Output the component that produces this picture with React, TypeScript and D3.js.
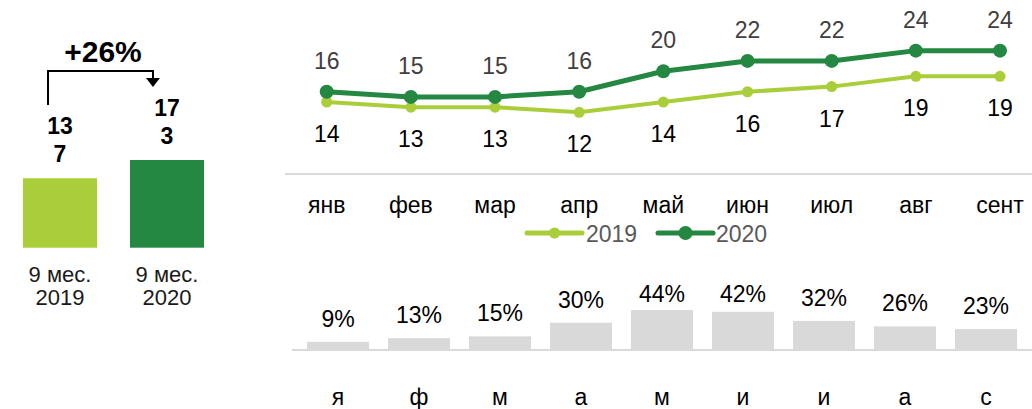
import React from 'react';
import * as d3 from 'd3';

const months = ['янв', 'фев', 'мар', 'апр', 'май', 'июн', 'июл', 'авг', 'сент'];
const series2019 = [14, 13, 13, 12, 14, 16, 17, 19, 19];
const series2020 = [16, 15, 15, 16, 20, 22, 22, 24, 24];
const seriesNames = ['2019', '2020'];

const shareCats = ['я', 'ф', 'м', 'а', 'м', 'и', 'и', 'а', 'с'];
const shareValues = [9, 13, 15, 30, 44, 42, 32, 26, 23];

const totalCats = [['9 мес.', '2019'], ['9 мес.', '2020']];
const totalValues = [137, 173];
const growthLabel = '+26%';

const LIGHT = '#A9CE3A';
const DARK = '#248742';
const GRID = '#D9D9D9';
const FONT = '"Liberation Sans", Arial, sans-serif';

export default function App() {
  // line chart scales
  const x = d3.scalePoint<string>().domain(months).range([326.7, 1000]);
  const y = d3.scaleLinear().domain([0, 30]).range([174, 19.8]);
  const line = d3
    .line<number>()
    .x((_, i) => x(months[i]) as number)
    .y((d) => y(d));

  // share bar chart scales
  const xb = d3
    .scaleBand<number>()
    .domain(shareValues.map((_, i) => i))
    .range([297.5, 1026.5])
    .paddingInner(0.235)
    .paddingOuter(0.1175);
  const yb = d3.scaleLinear().domain([0, 44]).range([350, 310]);

  // left totals
  const xt = d3.scaleBand<number>().domain([0, 1]).range([23, 204]).paddingInner(0.308).paddingOuter(0);
  const yt = d3.scaleLinear().domain([0, 173]).range([247.7, 160]);
  const totalColors = [LIGHT, DARK];

  const x0 = (xt(0) as number) + xt.bandwidth() / 2;
  const x1 = (xt(1) as number) + xt.bandwidth() / 2;

  return (
    <svg
      width={1032}
      height={409}
      style={{ position: 'absolute', left: 0, top: 0, background: '#fff' }}
      fontFamily={FONT}
    >
      {/* Left totals panel */}
      <text x={103} y={61.7} textAnchor="middle" fontSize={30} fontWeight="bold" fill="#000">
        {growthLabel}
      </text>
      <path
        d={`M${x0 - 12},105 V71 H${x1 - 14} V80`}
        fill="none"
        stroke="#000"
        strokeWidth={2}
      />
      <path d={`M${x1 - 21},78 L${x1 - 7},78 L${x1 - 14},87 Z`} fill="#000" />
      {totalValues.map((v, i) => {
        const cx = (xt(i) as number) + xt.bandwidth() / 2;
        const top = yt(v);
        const s = String(v);
        const lines = [s.slice(0, 2), s.slice(2)];
        return (
          <g key={i}>
            <rect
              x={xt(i)}
              y={top}
              width={xt.bandwidth()}
              height={yt(0) - top}
              fill={totalColors[i]}
            />
            <text textAnchor="middle" fontSize={23} fontWeight="bold" fill="#000">
              <tspan x={cx} y={top - 44}>{lines[0]}</tspan>
              <tspan x={cx} y={top - 16.5}>{lines[1]}</tspan>
            </text>
            <text textAnchor="middle" fontSize={22} fill="#1a1a1a">
              <tspan x={cx} y={281.7}>{totalCats[i][0]}</tspan>
              <tspan x={cx} y={305}>{totalCats[i][1]}</tspan>
            </text>
          </g>
        );
      })}

      {/* Line chart */}
      <line x1={285} x2={1032} y1={174} y2={174} stroke={GRID} strokeWidth={2} />
      {months.map((m) => (
        <text key={m} x={x(m)} y={212.5} textAnchor="middle" fontSize={23} fill="#000">
          {m}
        </text>
      ))}
      <path d={line(series2019) || ''} fill="none" stroke={LIGHT} strokeWidth={4} strokeLinejoin="round" strokeLinecap="round" />
      <path d={line(series2020) || ''} fill="none" stroke={DARK} strokeWidth={5} strokeLinejoin="round" strokeLinecap="round" />
      {series2019.map((v, i) => (
        <g key={'a' + i}>
          <circle cx={x(months[i])} cy={y(v)} r={5.5} fill={LIGHT} />
          <text x={x(months[i])} y={y(v) + 40} textAnchor="middle" fontSize={23} fill="#000">
            {v}
          </text>
        </g>
      ))}
      {series2020.map((v, i) => (
        <g key={'b' + i}>
          <circle cx={x(months[i])} cy={y(v)} r={7} fill={DARK} />
          <text x={x(months[i])} y={y(v) - 23} textAnchor="middle" fontSize={23} fill="#404040">
            {v}
          </text>
        </g>
      ))}

      {/* Legend */}
      <g>
        <line x1={527} x2={582} y1={233} y2={233} stroke={LIGHT} strokeWidth={5} strokeLinecap="round" />
        <circle cx={554.5} cy={233} r={5.5} fill={LIGHT} />
        <text x={586} y={241.7} fontSize={23} fill="#595959">{seriesNames[0]}</text>
        <line x1={658} x2={713} y1={233} y2={233} stroke={DARK} strokeWidth={5} strokeLinecap="round" />
        <circle cx={685.5} cy={233} r={7} fill={DARK} />
        <text x={716} y={241.7} fontSize={23} fill="#595959">{seriesNames[1]}</text>
      </g>

      {/* Share bar chart */}
      <line x1={292} x2={1032} y1={350} y2={350} stroke={GRID} strokeWidth={2} />
      {shareValues.map((v, i) => {
        const bx = xb(i) as number;
        const top = yb(v);
        const cx = bx + xb.bandwidth() / 2;
        return (
          <g key={'s' + i}>
            <rect x={bx} y={top} width={xb.bandwidth()} height={yb(0) - top} fill={GRID} />
            <text x={cx} y={Math.max(top - 15, 302)} textAnchor="middle" fontSize={23} fill="#000">
              {v}%
            </text>
            <text x={cx} y={405} textAnchor="middle" fontSize={23} fill="#000">
              {shareCats[i]}
            </text>
          </g>
        );
      })}
    </svg>
  );
}
